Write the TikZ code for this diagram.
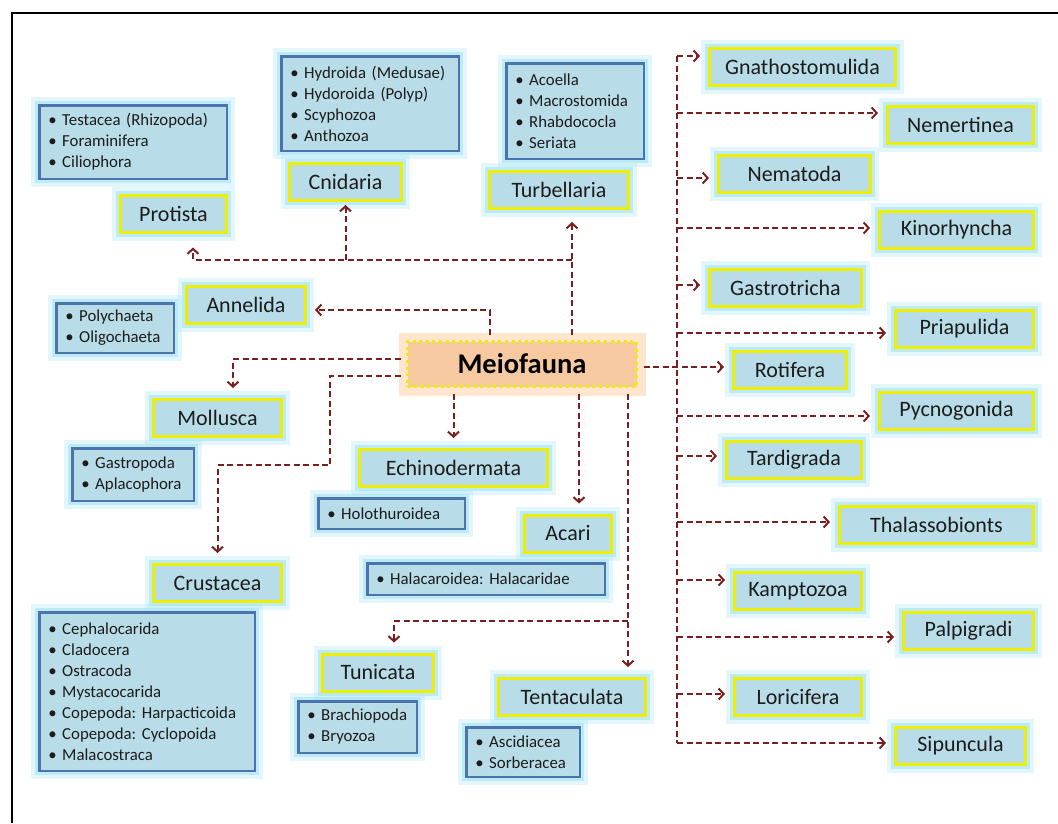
\documentclass[tikz,border=0pt]{standalone}
\usepackage{fontspec}
\setmainfont{Carlito}
\usepackage{tikz}
\usetikzlibrary{arrows.meta}
\definecolor{boxblue}{HTML}{B9DDE8}
\definecolor{glowcyan}{HTML}{9FE1F4}
\definecolor{listblue}{HTML}{4C74AC}
\definecolor{labelyellow}{HTML}{EEEE00}
\definecolor{linkred}{HTML}{7A1F1F}
\definecolor{peach}{HTML}{F7C9A0}
\definecolor{peachglow}{HTML}{FBD3AE}
\definecolor{inkgray}{HTML}{1C1C1C}
\newcommand{\taxonfont}{\fontsize{22}{26}\selectfont}
\newcommand{\listfont}{\fontsize{16.8}{21}\selectfont}
\frenchspacing

\begin{document}
\begin{tikzpicture}[x=1pt,y=-1pt,
  glow/.style={preaction={draw=glowcyan,solid,line width=17pt,opacity=0.3},
               preaction={draw=glowcyan,solid,line width=9pt,opacity=0.55}},
  taxon/.style={glow,rectangle,draw=labelyellow,line width=3pt,fill=boxblue,
                text=inkgray,font=\taxonfont,minimum height=37pt,inner sep=0pt},
  sublist/.style={glow,rectangle,draw=listblue,line width=2.5pt,fill=boxblue,
                text=inkgray,font=\listfont,align=left,inner xsep=9pt,inner ysep=0pt},
  linkline/.style={draw=linkred,line width=2pt,dash pattern=on 6pt off 3.5pt},
  link/.style={linkline,-{Straight Barb[length=5pt,width=11pt]},shorten >=8pt}]
  \useasboundingbox (0,0) rectangle (1058,823);
  \draw[line width=1.3pt] (12,823) -- (12,13) -- (1058,13);

  % sub-group lists
  \node[sublist,text width=169.5pt,minimum height=73.5pt] (protistalist) at (133,142)
    {• Testacea (Rhizopoda)\\• Foraminifera\\• Ciliophora};
  \node[sublist,text width=159.5pt,minimum height=94.5pt] (cnidarialist) at (370,103.5)
    {• Hydroida (Medusae)\\• Hydoroida (Polyp)\\• Scyphozoa\\• Anthozoa};
  \node[sublist,text width=119.5pt,minimum height=95.5pt] (turbellarialist) at (575,111)
    {• Acoella\\• Macrostomida\\• Rhabdococla\\• Seriata};
  \node[sublist,text width=99.5pt,minimum height=49.5pt] (annelidalist) at (115,328)
    {• Polychaeta\\• Oligochaeta};
  \node[sublist,text width=103.5pt,minimum height=52.5pt] (molluscalist) at (133,474.5)
    {• Gastropoda\\• Aplacophora};
  \node[sublist,text width=197.5pt,minimum height=158.5pt] (crustacealist) at (147,691.5)
    {• Cephalocarida\\• Cladocera\\• Ostracoda\\• Mystacocarida\\
     • Copepoda: Harpacticoida\\• Copepoda: Cyclopoida\\• Malacostraca};
  \node[sublist,text width=128.5pt,minimum height=30.5pt] (echinolist) at (391.5,513.5)
    {• Holothuroidea};
  \node[sublist,text width=219.5pt,minimum height=31.5pt] (acarilist) at (486,579)
    {• Halacaroidea: Halacaridae};
  \node[sublist,text width=100.5pt,minimum height=51.5pt] (tunicatalist) at (357.5,727)
    {• Brachiopoda\\• Bryozoa};
  \node[sublist,text width=95.5pt,minimum height=49.5pt] (tentaculatalist) at (523,752)
    {• Ascidiacea\\• Sorberacea};

  % groups on the left
  \foreach \nm/\lab/\cx/\cy/\w in {protista/Protista/173.5/213.5/106,
      cnidaria/Cnidaria/345.5/182/112, turbellaria/Turbellaria/559/190/139,
      annelida/Annelida/246/304.5/119, mollusca/Mollusca/217.5/418/128,
      crustacea/Crustacea/217.5/583/128, echinodermata/Echinodermata/453.5/468/188,
      acari/Acari/568/533.5/87, tunicata/Tunicata/378/672.5/111,
      tentaculata/Tentaculata/572/697/147}
    \node[taxon,minimum width=\w] (\nm) at (\cx,\cy) {\lab};

  \node[rectangle,preaction={draw=peachglow,solid,line width=18pt,opacity=0.6},
        fill=peach,draw=labelyellow,line width=3pt,dash pattern=on 3pt off 3.6pt,
        minimum width=229pt,minimum height=45pt,outer sep=7pt,
        font=\bfseries\fontsize{28.5}{32}\selectfont,text=black] (meio) at (522,364) {Meiofauna};

  % groups on the right, fed by one trunk
  \foreach \nm/\lab/\cx/\cy/\w/\ay in {gna/Gnathostomulida/802.5/66.5/186/56,
      nem/Nemertinea/960.5/124.5/146/113, nmt/Nematoda/794.5/173.5/152/178,
      kin/Kinorhyncha/956.5/230/154/228, gas/Gastrotricha/785.5/288/152/285,
      pri/Priapulida/964.5/329/138/333, pyc/Pycnogonida/956.5/411/154/416,
      tar/Tardigrada/794/460/135/456, tha/Thalassobionts/936.5/525/194/522,
      kam/Kamptozoa/798/591/127/580, pal/Palpigradi/968.5/631/130/637,
      lor/Loricifera/798/697/127/694, sip/Sipuncula/960.5/746/130/743}{
    \node[taxon,minimum width=\w] (\nm) at (\cx,\cy) {\lab};
    \coordinate (j\nm) at (677,\ay);
    \draw[link] (j\nm) -- (\nm.west |- j\nm);
  }
  \draw[linkline] (jgna) -- (jsip);
  \node[taxon,minimum width=113] (rot) at (790,370) {Rotifera};
  \coordinate (jrot) at (677,367);
  \draw[link] (meio.east |- jrot) -- (rot.west |- jrot);

  % upward branches
  \coordinate (uphub) at (572,260);
  \coordinate (upleft) at (193,260);
  \coordinate (annhub) at (490,310);
  \draw[link,shorten >=12pt] (meio.north -| uphub) -- (uphub) -- (turbellaria.south -| uphub);
  \draw[link,shorten >=14pt] (uphub) -- (upleft) -- (protista.south -| upleft);
  \draw[link,shorten >=3pt] (cnidaria |- uphub) -- (cnidaria.south);
  \draw[link] (meio.north -| annhub) -- (annhub) -- (annelida.east |- annhub);

  % left and downward branches
  \coordinate (molhub) at (233,359);
  \coordinate (crubend) at (330,376);
  \coordinate (crustep) at (330,465);
  \coordinate (acaridrop) at (579,450);
  \coordinate (tentfork) at (628,621);
  \coordinate (tunbend) at (394,621);
  \draw[link,shorten >=10pt] (meio.west |- molhub) -- (molhub) -- (mollusca.north -| molhub);
  \draw[link,shorten >=10pt] (meio.west |- crubend) -- (crubend) -- (crustep)
    -- (crustacea.north |- crustep) -- (crustacea.north);
  \draw[link,shorten >=10pt] (meio.south -| echinodermata) -- (echinodermata.north);
  \draw[link,shorten >=10pt] (meio.south -| acaridrop) -- (acari.north -| acaridrop);
  \draw[link,shorten >=10pt] (meio.south -| tentfork) -- (tentfork) -- (tentaculata.north -| tentfork);
  \draw[link,shorten >=10pt] (tentfork) -- (tunbend) -- (tunicata.north -| tunbend);
\end{tikzpicture}
\end{document}
